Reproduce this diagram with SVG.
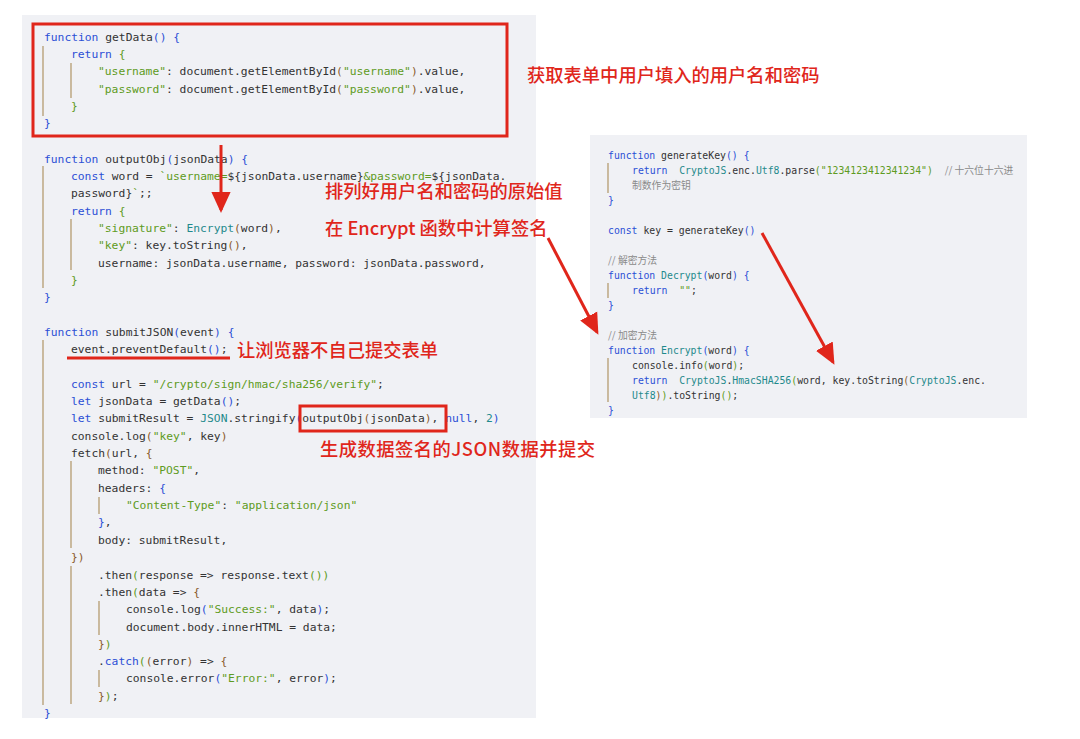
<svg xmlns="http://www.w3.org/2000/svg" width="1080" height="739" viewBox="0 0 1080 739">
<style>
.code{font-family:"DejaVu Sans Mono",monospace;font-size:11.3px;fill:#333;white-space:pre}
.rc{font-size:9.8px}
.k{fill:#2b4fd6}.s{fill:#5e9b22}.t{fill:#1f8a8c}.p{fill:#8a5a2b}.b{fill:#2b4fd6}.c{fill:#8a8a8a;font-family:"Noto Sans CJK SC",sans-serif}
.g{stroke:#b09565;stroke-width:1.2}
.ann{font-family:"Noto Sans CJK SC","Noto Sans",sans-serif;font-size:18.3px;font-weight:500;fill:#e0261b}
.red{stroke:#e0261b;stroke-width:3;fill:none}
</style>
<defs><marker id="ah" markerWidth="8" markerHeight="8" refX="6" refY="4" orient="auto" markerUnits="strokeWidth"><path d="M0,0.8 L7,4 L0,7.2 z" fill="#e0261b"/></marker></defs>
<rect width="1080" height="739" fill="#fff"/>
<g id="left-panel">
<rect x="22" y="15" width="514" height="703" fill="#f0f1f5"/>
<g class="guides">
<line class="g" x1="43" y1="46" x2="43" y2="116"/><line class="g" x1="71" y1="63" x2="71" y2="98"/>
<line class="g" x1="43" y1="166" x2="43" y2="288"/><line class="g" x1="71" y1="219" x2="71" y2="270"/>
<line class="g" x1="43" y1="340" x2="43" y2="705"/><line class="g" x1="71" y1="461" x2="71" y2="548"/><line class="g" x1="99" y1="497" x2="99" y2="514"/>
<line class="g" x1="71" y1="566" x2="71" y2="704"/><line class="g" x1="99" y1="601" x2="99" y2="635"/><line class="g" x1="99" y1="670" x2="99" y2="687"/>
</g>
<text class="code" x="44" y="41"><tspan class="k">function</tspan> getData<tspan class="b">()</tspan> <tspan class="b">{</tspan></text>
<text class="code" x="71" y="58"><tspan class="k">return</tspan> <tspan class="s">{</tspan></text>
<text class="code" x="98" y="75"><tspan class="s">"username"</tspan>: document.getElementById<tspan class="p">(</tspan><tspan class="s">"username"</tspan><tspan class="p">)</tspan>.value,</text>
<text class="code" x="98" y="93"><tspan class="s">"password"</tspan>: document.getElementById<tspan class="p">(</tspan><tspan class="s">"password"</tspan><tspan class="p">)</tspan>.value,</text>
<text class="code" x="71" y="110"><tspan class="s">}</tspan></text>
<text class="code" x="44" y="127"><tspan class="b">}</tspan></text>
<text class="code" x="44" y="163"><tspan class="k">function</tspan> outputObj<tspan class="b">(</tspan>jsonData<tspan class="b">)</tspan> <tspan class="b">{</tspan></text>
<text class="code" x="71" y="180"><tspan class="k">const</tspan> word = <tspan class="s">`username=</tspan>${jsonData.username}<tspan class="s">&amp;password=</tspan>${jsonData.</text>
<text class="code" x="71" y="197">password}<tspan class="s">`</tspan>;;</text>
<text class="code" x="71" y="215"><tspan class="k">return</tspan> <tspan class="s">{</tspan></text>
<text class="code" x="98" y="232"><tspan class="s">"signature"</tspan>: <tspan class="t">Encrypt</tspan><tspan class="p">(</tspan>word<tspan class="p">)</tspan>,</text>
<text class="code" x="98" y="249"><tspan class="s">"key"</tspan>: key.toString<tspan class="p">()</tspan>,</text>
<text class="code" x="98" y="267">username: jsonData.username, password: jsonData.password,</text>
<text class="code" x="71" y="284"><tspan class="s">}</tspan></text>
<text class="code" x="44" y="301"><tspan class="b">}</tspan></text>
<text class="code" x="44" y="336"><tspan class="k">function</tspan> submitJSON<tspan class="b">(</tspan>event<tspan class="b">)</tspan> <tspan class="b">{</tspan></text>
<text class="code" x="71" y="353">event.preventDefault<tspan class="b">()</tspan>;</text>
<text class="code" x="71" y="388"><tspan class="k">const</tspan> url = <tspan class="s">"/crypto/sign/hmac/sha256/verify"</tspan>;</text>
<text class="code" x="71" y="405"><tspan class="k">let</tspan> jsonData = getData<tspan class="b">()</tspan>;</text>
<text class="code" x="71" y="422"><tspan class="k">let</tspan> submitResult = <tspan class="t">JSON</tspan>.stringify<tspan class="b">(</tspan>outputObj<tspan class="p">(</tspan>jsonData<tspan class="p">)</tspan>, <tspan class="k">null</tspan>, <tspan class="t">2</tspan><tspan class="b">)</tspan></text>
<text class="code" x="71" y="440">console.log<tspan class="p">(</tspan><tspan class="s">"key"</tspan>, key<tspan class="p">)</tspan></text>
<text class="code" x="71" y="457">fetch<tspan class="p">(</tspan>url, <tspan class="p">{</tspan></text>
<text class="code" x="98" y="474">method: <tspan class="s">"POST"</tspan>,</text>
<text class="code" x="98" y="492">headers: <tspan class="b">{</tspan></text>
<text class="code" x="126" y="509"><tspan class="s">"Content-Type"</tspan>: <tspan class="s">"application/json"</tspan></text>
<text class="code" x="98" y="526"><tspan class="b">}</tspan>,</text>
<text class="code" x="98" y="544">body: submitResult,</text>
<text class="code" x="71" y="561"><tspan class="p">})</tspan></text>
<text class="code" x="98" y="579">.then<tspan class="s">(</tspan>response =&gt; response.text<tspan class="s">())</tspan></text>
<text class="code" x="98" y="596">.then<tspan class="s">(</tspan>data =&gt; <tspan class="p">{</tspan></text>
<text class="code" x="126" y="613">console.log<tspan class="b">(</tspan><tspan class="s">"Success:"</tspan>, data<tspan class="b">)</tspan>;</text>
<text class="code" x="126" y="631">document.body.innerHTML = data;</text>
<text class="code" x="98" y="648"><tspan class="p">}</tspan><tspan class="s">)</tspan></text>
<text class="code" x="98" y="665">.<tspan class="k">catch</tspan><tspan class="s">(</tspan><tspan class="p">(</tspan>error<tspan class="p">)</tspan> =&gt; <tspan class="p">{</tspan></text>
<text class="code" x="126" y="682">console.error<tspan class="b">(</tspan><tspan class="s">"Error:"</tspan>, error<tspan class="b">)</tspan>;</text>
<text class="code" x="98" y="700"><tspan class="p">}</tspan><tspan class="s">)</tspan>;</text>
<text class="code" x="44" y="717"><tspan class="b">}</tspan></text>
</g>
<g id="right-panel">
<rect x="590" y="135" width="437" height="283" fill="#f0f1f5"/>
<line class="g" x1="608" y1="163" x2="608" y2="193"/><line class="g" x1="608" y1="283" x2="608" y2="298"/><line class="g" x1="608" y1="358" x2="608" y2="402"/>
<text class="code rc" x="608" y="159"><tspan class="k">function</tspan> generateKey<tspan class="b">()</tspan> <tspan class="b">{</tspan></text>
<text class="code rc" x="632" y="174"><tspan class="k">return</tspan>  <tspan class="t">CryptoJS</tspan>.enc.<tspan class="t">Utf8</tspan>.parse<tspan class="s">("1234123412341234")</tspan>  <tspan class="c">// 十六位十六进</tspan></text>
<text class="code rc c" x="632" y="189">制数作为密钥</text>
<text class="code rc" x="608" y="204"><tspan class="b">}</tspan></text>
<text class="code rc" x="608" y="234"><tspan class="k">const</tspan> key = generateKey<tspan class="b">()</tspan></text>
<text class="code rc c" x="608" y="264">// 解密方法</text>
<text class="code rc" x="608" y="279"><tspan class="k">function</tspan> <tspan class="t">Decrypt</tspan><tspan class="b">(</tspan>word<tspan class="b">)</tspan> <tspan class="b">{</tspan></text>
<text class="code rc" x="632" y="294"><tspan class="k">return</tspan>  <tspan class="s">""</tspan>;</text>
<text class="code rc" x="608" y="309"><tspan class="b">}</tspan></text>
<text class="code rc c" x="608" y="339">// 加密方法</text>
<text class="code rc" x="608" y="354"><tspan class="k">function</tspan> <tspan class="t">Encrypt</tspan><tspan class="b">(</tspan>word<tspan class="b">)</tspan> <tspan class="b">{</tspan></text>
<text class="code rc" x="632" y="369">console.info<tspan class="s">(</tspan>word<tspan class="s">)</tspan>;</text>
<text class="code rc" x="632" y="384"><tspan class="k">return</tspan>  <tspan class="t">CryptoJS</tspan>.<tspan class="t">HmacSHA256</tspan><tspan class="s">(</tspan>word, key.toString<tspan class="p">(</tspan><tspan class="t">CryptoJS</tspan>.enc.</text>
<text class="code rc" x="632" y="399"><tspan class="t">Utf8</tspan><tspan class="p">)</tspan><tspan class="s">)</tspan>.toString<tspan class="s">()</tspan>;</text>
<text class="code rc" x="608" y="414"><tspan class="b">}</tspan></text>
</g>
<g id="connectors">
<rect class="red" x="33" y="24" width="474" height="112"/>
<rect class="red" x="300" y="406" width="146" height="25" stroke-width="2.5"/>
<line class="red" x1="67" y1="358" x2="230" y2="358" stroke-width="2.5"/>
<line class="red" x1="221" y1="145" x2="221" y2="210" marker-end="url(#ah)"/>
<line class="red" x1="548" y1="238" x2="597" y2="332" marker-end="url(#ah)"/>
<line class="red" x1="762" y1="233" x2="833" y2="362" marker-end="url(#ah)"/>
</g>
<g id="labels">
<text class="ann" x="527" y="82">获取表单中用户填入的用户名和密码</text>
<text class="ann" x="325" y="198">排列好用户名和密码的原始值</text>
<text class="ann" x="325" y="235">在 Encrypt 函数中计算签名</text>
<text class="ann" x="237" y="357">让浏览器不自己提交表单</text>
<text class="ann" x="320" y="456" textLength="275">生成数据签名的JSON数据并提交</text>
</g>
</svg>
